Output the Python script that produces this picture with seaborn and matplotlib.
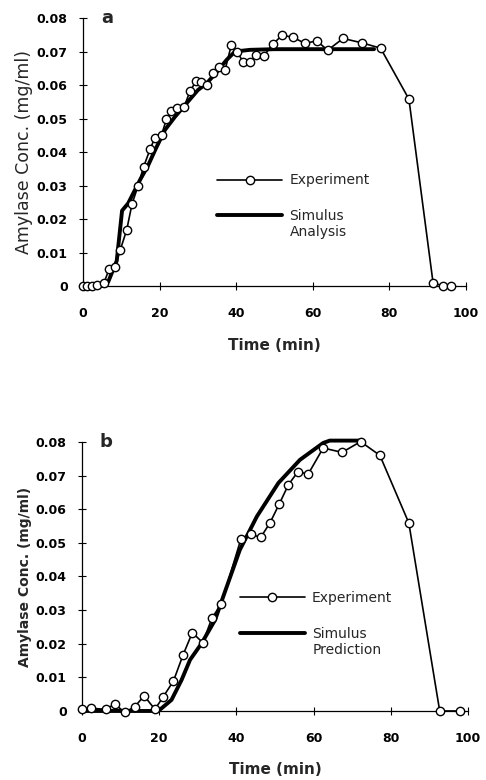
import matplotlib
matplotlib.use("Agg")
import matplotlib.pyplot as plt
import seaborn as sns
import pandas as pd

# ---------------- data ----------------
# Panel a: experiment
a_exp_time = [0, 1.1, 2.3, 3.7, 5.5, 6.8, 8.4, 9.7, 11.4, 12.8, 14.4, 15.8, 17.5, 18.8,
              20.5, 21.8, 23.1, 24.6, 26.4, 27.9, 29.6, 30.9, 32.5, 34.0, 35.5, 37.1,
              38.7, 40.2, 41.9, 43.6, 45.3, 47.2, 49.5, 52.0, 54.9, 58.0, 61.0, 63.9,
              67.9, 72.8, 77.7, 85.1, 91.4, 94.0, 96.0]
a_exp_conc = [0, 0, 0, 0.0002, 0.001, 0.005, 0.0057, 0.0107, 0.0167, 0.0245, 0.030,
              0.0355, 0.0408, 0.0443, 0.0451, 0.0498, 0.0523, 0.0530, 0.0534, 0.0581,
              0.0613, 0.0608, 0.0600, 0.0637, 0.0653, 0.0645, 0.0718, 0.0699, 0.0668,
              0.0668, 0.0690, 0.0687, 0.0721, 0.0749, 0.0742, 0.0724, 0.0732, 0.0704,
              0.0739, 0.0726, 0.0710, 0.0558, 0.001, 0, 0]
# Panel a: simulation
a_sim_time = [0, 5.5, 6.6, 8.8, 10.2, 11.8, 14.9, 17.0, 19.0, 21.4, 24.0, 27.0, 30.0,
              32.3, 35.0, 37.5, 39.7, 43.6, 50, 60, 70, 76]
a_sim_conc = [0, 0, 0.0013, 0.0075, 0.0225, 0.0247, 0.0317, 0.0360, 0.0410, 0.0466,
              0.0505, 0.0545, 0.0585, 0.0605, 0.0640, 0.0675, 0.0700, 0.0705, 0.0707,
              0.0707, 0.0707, 0.0707]

# Panel b: experiment
b_exp_time = [0, 2.3, 6.1, 8.5, 11.1, 13.7, 16.1, 18.9, 21.1, 23.7, 26.2, 28.6, 31.3,
              33.7, 36.1, 41.2, 43.7, 46.3, 48.7, 51.1, 53.5, 56.0, 58.6, 62.5, 67.4,
              72.2, 77.2, 84.7, 92.7, 98.0]
b_exp_conc = [0.0005, 0.0008, 0.0005, 0.002, -0.0004, 0.0013, 0.0045, 0.0005, 0.0043,
              0.0089, 0.0167, 0.0233, 0.0203, 0.0277, 0.0318, 0.0512, 0.0526, 0.0516,
              0.0559, 0.0615, 0.0673, 0.0712, 0.0704, 0.0782, 0.0769, 0.0801, 0.0760,
              0.0559, 0, 0]
# Panel b: simulation
b_sim_time = [0, 19.8, 23.2, 25.8, 28.0, 31.0, 34.5, 36.6, 40.9, 45.3, 50.9, 56.5,
              62.5, 64.2, 72.0]
b_sim_conc = [0, 0, 0.0033, 0.0092, 0.0152, 0.0201, 0.0271, 0.0340, 0.0479, 0.0578,
              0.0678, 0.0747, 0.0797, 0.0804, 0.0804]

x_ticks = [0, 20, 40, 60, 80, 100]
y_ticks = [0, 0.01, 0.02, 0.03, 0.04, 0.05, 0.06, 0.07, 0.08]
y_tick_labels = ["0", "0.01", "0.02", "0.03", "0.04", "0.05", "0.06", "0.07", "0.08"]

# ---------------- style ----------------
sns.set_style("ticks")
plt.rcParams["font.family"] = ["DejaVu Sans"]

fig = plt.figure(figsize=(4.86, 7.8), dpi=100)
ax_a = fig.add_axes([0.1708, 0.6333, 0.788, 0.3436])
ax_b = fig.add_axes([0.1687, 0.0885, 0.794, 0.3449])

panels = [
    (ax_a, a_exp_time, a_exp_conc, a_sim_time, a_sim_conc, "a", "Analysis",
     dict(leg=(0.35, 0.42), extra=(0.540, 0.20), ylab_x=-0.13, ylab_w="normal",
          ylab_size=12.5, xlab_y=-0.195)),
    (ax_b, b_exp_time, b_exp_conc, b_sim_time, b_sim_conc, "b", "Prediction",
     dict(leg=(0.409, 0.445), extra=(0.598, 0.225), ylab_x=-0.13, ylab_w="bold",
          ylab_size=10, xlab_y=-0.19)),
]

for ax, et, ec, st, sc, tag, word, opt in panels:
    df_exp = pd.DataFrame({"Time": et, "Conc": ec})
    df_sim = pd.DataFrame({"Time": st, "Conc": sc})
    sns.lineplot(data=df_exp, x="Time", y="Conc", ax=ax, sort=False, color="black",
                 linewidth=1.2, marker="o", markersize=6, markerfacecolor="white",
                 markeredgecolor="black", markeredgewidth=1.0, clip_on=False,
                 label="Experiment", zorder=3)
    sns.lineplot(data=df_sim, x="Time", y="Conc", ax=ax, sort=False, color="black",
                 linewidth=2.8, clip_on=False, label="Simulus", zorder=2)

    ax.set_xlim(0, 100)
    ax.set_ylim(0, 0.08)
    ax.set_xticks(x_ticks)
    ax.set_xticklabels([str(t) for t in x_ticks])
    ax.set_yticks(y_ticks)
    ax.set_yticklabels(y_tick_labels)
    for lab in ax.get_xticklabels() + ax.get_yticklabels():
        lab.set_fontweight("bold")
        lab.set_fontsize(9)
    ax.tick_params(axis="both", direction="inout", length=6, width=0.8, colors="black")
    ax.tick_params(axis="x", pad=12)
    ax.tick_params(axis="y", pad=8)
    for side in ["top", "right"]:
        ax.spines[side].set_visible(False)
    for side in ["left", "bottom"]:
        ax.spines[side].set_linewidth(0.9)
        ax.spines[side].set_color("black")

    ax.set_xlabel("Time (min)", fontsize=11, fontweight="bold")
    ax.xaxis.set_label_coords(0.5, opt["xlab_y"])
    ax.set_ylabel("Amylase Conc. (mg/ml)", fontsize=opt["ylab_size"],
                  fontweight=opt["ylab_w"])
    ax.yaxis.set_label_coords(opt["ylab_x"], 0.5)

    ax.text(0.063, 1.0, tag, transform=ax.transAxes, fontsize=13, fontweight="bold",
            ha="center", va="center")

    handles, labels = ax.get_legend_handles_labels()
    ax.legend(handles, labels, loc="upper left", bbox_to_anchor=opt["leg"],
              frameon=False, fontsize=10, handlelength=4.7, handletextpad=0.5,
              labelspacing=1.55, borderpad=0, borderaxespad=0)
    ax.text(opt["extra"][0], opt["extra"][1], word, transform=ax.transAxes,
            fontsize=10, ha="left", va="center")

fig.savefig("out.png", dpi=100)
